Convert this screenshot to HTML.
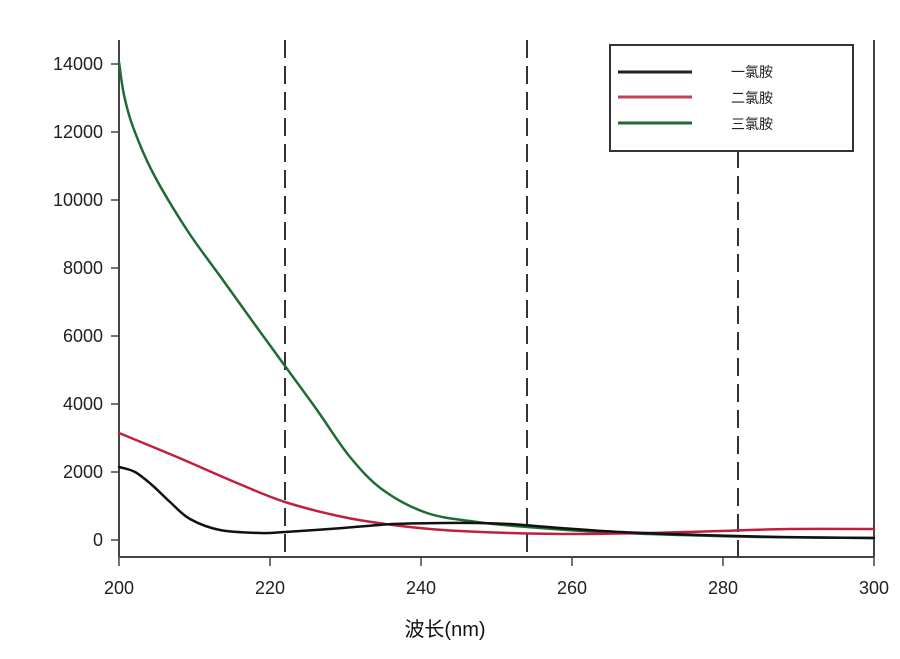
<!DOCTYPE html>
<html><head><meta charset="utf-8"><style>body{margin:0;background:#fff}svg{display:block}</style></head>
<body>
<svg id="s" width="900" height="659" viewBox="0 0 900 659" xmlns="http://www.w3.org/2000/svg" font-family="Liberation Sans, Noto Sans CJK SC, sans-serif">
<rect width="900" height="659" fill="#fff"/>
<g stroke="#444" stroke-width="2" fill="none">
<line x1="119" y1="40" x2="119" y2="557"/>
<line x1="119" y1="557" x2="874" y2="557"/>
<line x1="874" y1="40" x2="874" y2="557"/>
</g>
<g stroke="#444" stroke-width="1.5">
<line x1="111" y1="540" x2="119" y2="540"/><line x1="111" y1="472" x2="119" y2="472"/>
<line x1="111" y1="404" x2="119" y2="404"/><line x1="111" y1="336" x2="119" y2="336"/>
<line x1="111" y1="268" x2="119" y2="268"/><line x1="111" y1="200" x2="119" y2="200"/>
<line x1="111" y1="132" x2="119" y2="132"/><line x1="111" y1="64" x2="119" y2="64"/>
<line x1="119" y1="557" x2="119" y2="566"/><line x1="270" y1="557" x2="270" y2="566"/>
<line x1="421" y1="557" x2="421" y2="566"/><line x1="572" y1="557" x2="572" y2="566"/>
<line x1="723" y1="557" x2="723" y2="566"/><line x1="874" y1="557" x2="874" y2="566"/>
</g>
<g stroke="#333" stroke-width="2" stroke-dasharray="18,8">
<line x1="285" y1="40" x2="285" y2="557"/>
<line x1="527" y1="40" x2="527" y2="557"/>
<line x1="738" y1="150" x2="738" y2="557"/>
</g>
<g font-size="18" fill="#222" text-anchor="end">
<text x="103" y="546">0</text><text x="103" y="478">2000</text><text x="103" y="410">4000</text>
<text x="103" y="342">6000</text><text x="103" y="274">8000</text><text x="103" y="206">10000</text>
<text x="103" y="138">12000</text><text x="103" y="70">14000</text>
</g>
<g font-size="18" fill="#222" text-anchor="middle">
<text x="119" y="594">200</text><text x="270" y="594">220</text><text x="421" y="594">240</text>
<text x="572" y="594">260</text><text x="723" y="594">280</text><text x="874" y="594">300</text>
</g>
<text x="445" y="636" font-size="20" fill="#111" text-anchor="middle">波长(nm)</text>
<g fill="none" stroke-width="2.5" stroke-linejoin="round" stroke-linecap="round">
<path id="g" stroke="#1e6b33"/>
<path id="r" stroke="#c0203f"/>
<path id="k" stroke="#111"/>
</g>
<rect x="610" y="45" width="243" height="106" fill="#fff" stroke="#333" stroke-width="2"/>
<g stroke-width="3"><line x1="618" y1="72" x2="692" y2="72" stroke="#222"/>
<line x1="618" y1="97" x2="692" y2="97" stroke="#c0405a"/>
<line x1="618" y1="123" x2="692" y2="123" stroke="#1e6b33"/></g>
<g font-size="14" fill="#222"><text x="731" y="77">一氯胺</text><text x="731" y="103">二氯胺</text><text x="731" y="129">三氯胺</text></g>
</svg>
<script>
function cr(p){var d="M"+p[0][0]+","+p[0][1];for(var i=0;i<p.length-1;i++){var a=p[i-1]||p[i],b=p[i],c=p[i+1],e=p[i+2]||c;
d+=" C"+(b[0]+(c[0]-a[0])/6)+","+(b[1]+(c[1]-a[1])/6)+" "+(c[0]-(e[0]-b[0])/6)+","+(c[1]-(e[1]-b[1])/6)+" "+c[0]+","+c[1];}return d;}
document.getElementById("g").setAttribute("d",cr([[119,62],[124,95],[133,127],[153,173],[187,230],[220,276],[253,322],[285,366],[317,410],[350,457],[383,490],[427,513],[477,522],[527,527],[600,532],[680,535],[760,537],[874,538]]));
document.getElementById("r").setAttribute("d",cr([[119,433],[177,457],[237,483],[285,502],[343,517],[393,525],[443,530],[510,533],[580,534],[650,533],[720,531],[790,529],[874,529]]));
document.getElementById("k").setAttribute("d",cr([[119,467],[135,472],[152,485],[170,502],[190,519],[220,530],[260,533],[285,532],[343,528],[393,524],[443,523],[477,523],[510,524],[560,528],[620,532],[700,535],[780,537],[874,538]]));
</script>
</body></html>
